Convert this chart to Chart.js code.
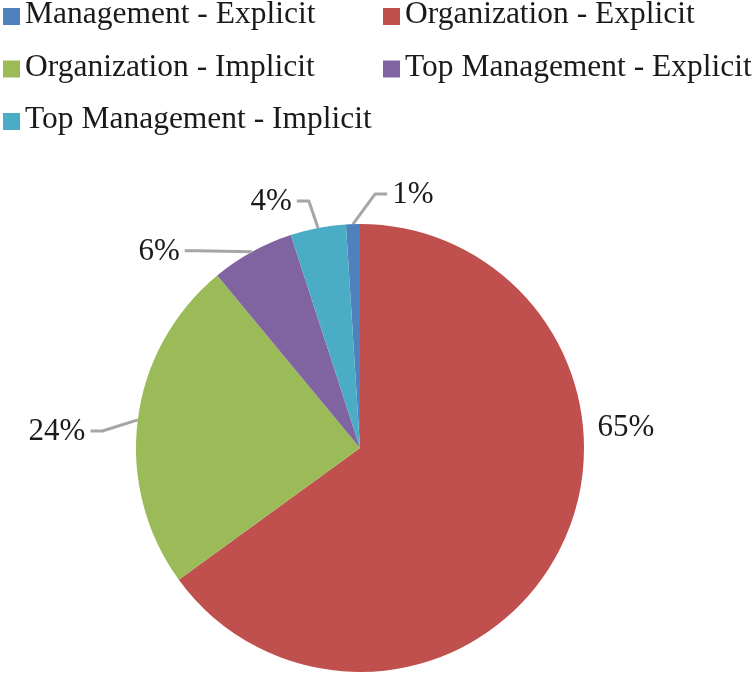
<!DOCTYPE html>
<html>
<head>
<meta charset="utf-8">
<script src="https://cdn.jsdelivr.net/npm/chart.js@4.4.1/dist/chart.umd.min.js"></script>
<style>
  html, body { margin: 0; padding: 0; background: #fff; }
  #wrap { position: relative; width: 755px; height: 675px; }
</style>
</head>
<body>
<div id="wrap"><canvas id="grafico" width="755" height="675"></canvas></div>
<script>
const categorias = [
  "Management - Explicit",
  "Organization - Explicit",
  "Organization - Implicit",
  "Top Management - Explicit",
  "Top Management - Implicit"
];
const valores = [1, 65, 24, 6, 4];
const cores = ["#4f81bd", "#c0504d", "#9bbb59", "#8064a2", "#4bacc6"];

// onde fica cada rótulo: ângulo a partir das 12h (horário, graus) e distância em raios
const posRotulos = [
  { ang: 11.7,  dist: 1.163 },
  { ang: 85.1,  dist: 1.192 },
  { ang: 273.4, dist: 1.355 },
  { ang: 314.6, dist: 1.260 },
  { ang: 340.3, dist: 1.176 }
];

const FONTE_LEGENDA = '31.5px "Liberation Serif", "Times New Roman", serif';
const FONTE_ROTULO  = '31px "Liberation Serif", "Times New Roman", serif';
const COR_TEXTO = "#1a1a1a";

// ─── LEGENDA EM DUAS COLUNAS ──────────────────────────────────────────────────
const legendaPlugin = {
  id: "legendaColunas",
  afterDraw(chart) {
    const ctx = chart.ctx;
    ctx.save();
    ctx.font = FONTE_LEGENDA;
    ctx.textAlign = "left";
    ctx.textBaseline = "alphabetic";
    categorias.forEach((nome, i) => {
      const col = i % 2, row = Math.floor(i / 2);
      const sx = 3 + col * 380;
      const base = 23 + row * 52.5;
      ctx.fillStyle = cores[i];
      ctx.fillRect(sx, base - 15, 17, 17);
      ctx.fillStyle = COR_TEXTO;
      ctx.fillText(nome, sx + 22, base);
    });
    ctx.restore();
  }
};

// ─── RÓTULOS COM LINHAS DE CHAMADA ────────────────────────────────────────────
const rotulosPlugin = {
  id: "rotulos",
  afterDatasetsDraw(chart) {
    const ctx = chart.ctx;
    const arcs = chart.getDatasetMeta(0).data;
    const total = valores.reduce((a, b) => a + b, 0);
    ctx.save();
    ctx.font = FONTE_ROTULO;
    ctx.textAlign = "center";
    ctx.textBaseline = "alphabetic";
    arcs.forEach((arc, i) => {
      const { x, y, startAngle, endAngle, outerRadius } =
        arc.getProps(["x", "y", "startAngle", "endAngle", "outerRadius"], true);
      const p = posRotulos[i];
      const a = (p.ang - 90) * Math.PI / 180;
      const lx = x + Math.cos(a) * outerRadius * p.dist;
      const ly = y + Math.sin(a) * outerRadius * p.dist;
      const texto = Math.round(valores[i] / total * 100) + "%";
      const w = ctx.measureText(texto).width;

      const mid = (startAngle + endAngle) / 2;
      const ax = x + Math.cos(mid) * outerRadius;
      const ay = y + Math.sin(mid) * outerRadius;

      // só desenha a linha se o rótulo ficou longe da pizza
      const lado = ax < lx ? -1 : 1;
      const bordaX = lx + lado * w / 2;
      const gap = Math.hypot(bordaX - x, ly - y) - outerRadius;
      if (gap > 20) {
        const x0 = lx + lado * (w / 2 + 5);
        const x1 = x0 + lado * 12;
        ctx.beginPath();
        ctx.moveTo(x0, ly + 1);
        ctx.lineTo(x1, ly + 1);
        ctx.lineTo(ax, ay);
        ctx.strokeStyle = "#a6a6a6";
        ctx.lineWidth = 3;
        ctx.lineJoin = "round";
        ctx.stroke();
      }
      ctx.fillStyle = COR_TEXTO;
      ctx.fillText(texto, lx, ly + 10.5);
    });
    ctx.restore();
  }
};

new Chart(document.getElementById("grafico").getContext("2d"), {
  type: "pie",
  data: {
    labels: categorias,
    datasets: [{
      data: valores,
      backgroundColor: cores,
      borderWidth: 0
    }]
  },
  options: {
    responsive: false,
    animation: false,
    rotation: -valores[0] / valores.reduce((a, b) => a + b, 0) * 360,
    layout: { padding: { top: 224, bottom: 3, left: 0, right: 35 } },
    plugins: {
      legend: { display: false },
      tooltip: { enabled: false }
    }
  },
  plugins: [rotulosPlugin, legendaPlugin]
});
</script>
</body>
</html>
